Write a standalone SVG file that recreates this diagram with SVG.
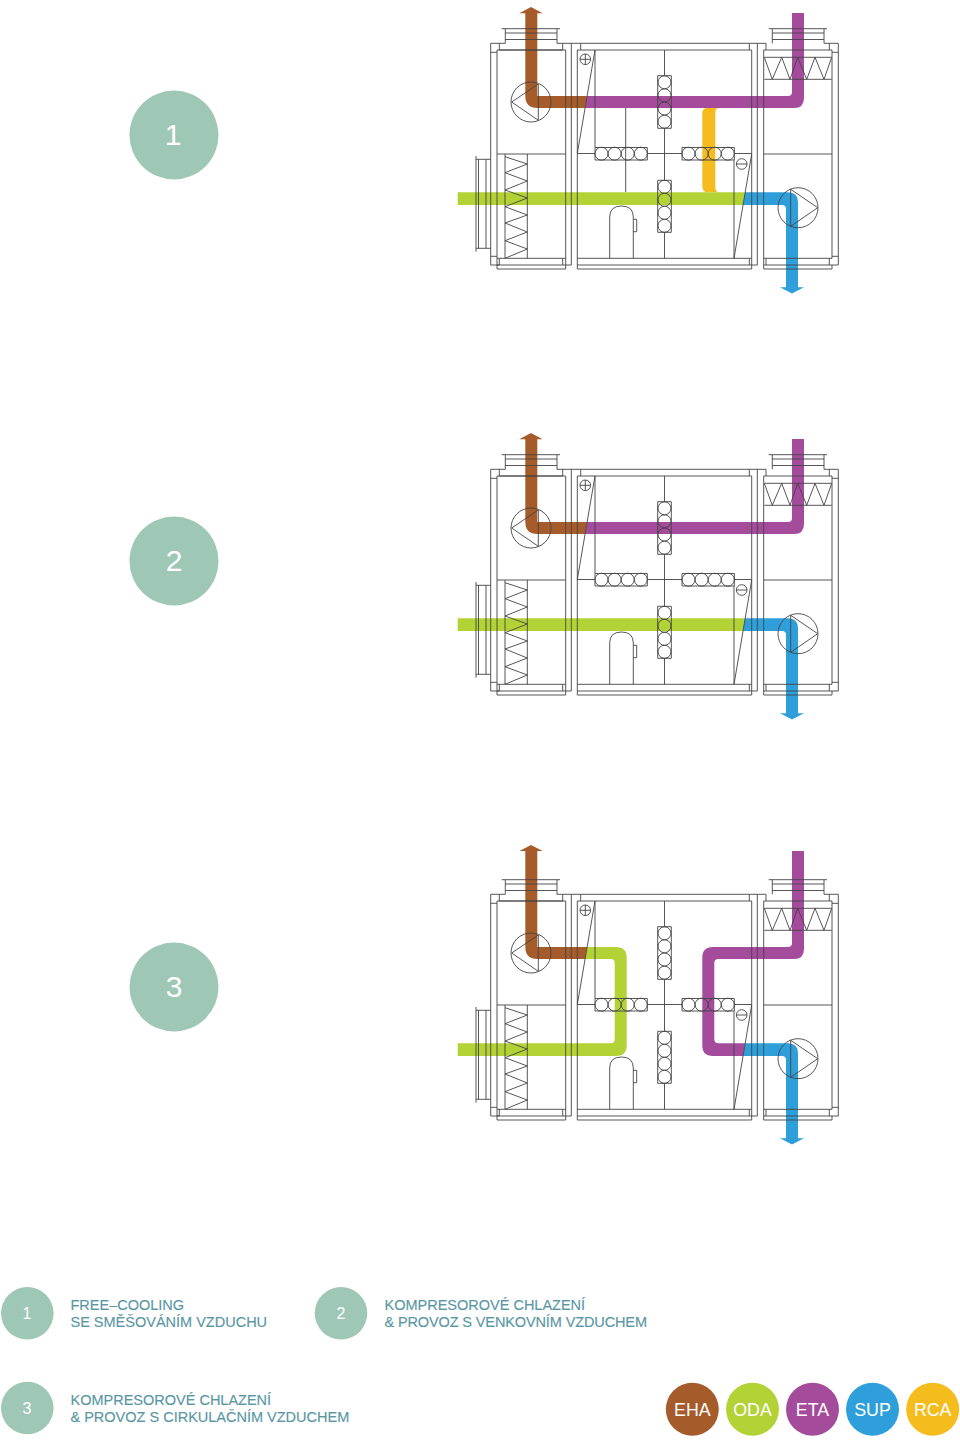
<svg xmlns="http://www.w3.org/2000/svg" width="960" height="1443" viewBox="0 0 960 1443">
<style>
.l{fill:none;stroke:#444;stroke-width:.9}
.brown{fill:#a65b2b}.purple{fill:#a44b9b}.green{fill:#b3d235}.blue{fill:#2f9fdb}.yellow{fill:#f5bc1e}
.big{fill:#9ec8b5}
text{font-family:"Liberation Sans",Arial,sans-serif}
.n{fill:#fff;text-anchor:middle}
.t{fill:#5a97a3;font-size:14.5px;stroke:#5a97a3;stroke-width:.15}
.k{fill:#fff;text-anchor:middle;font-size:17.8px}
</style>
<defs>
<g id="unit" class="l">
<path d="M490.7 43.3V265H499.3V258.3M490.7 43.3H505.3M499.3 43.3V50M490.7 52.3H497M490.7 256.3H497"/>
<path d="M497 50V269H565.7V50H497M497 265H562.7V258.3M497 258.3H565.7M499.3 50H562.7M562.7 43.3V50"/>
<path d="M557 43.3H580.7V50M571.3 43.3V265H562.7M577.3 50V269H751.7M577.3 265H749.3M577.3 258.3H751.7"/>
<path d="M580.7 43.3H749.3V50M577.3 50H751.7V269M749.3 265V258.3"/>
<path d="M749.3 43.3H766V50M757.3 43.3V265H749.3M763.7 50V269H832V265M766 265V258.3M763.7 265H838.3M829.3 265V258.3M763.7 258.3H832"/>
<path d="M824 43.3H838.3V265M829.3 43.3V50M763.7 50H832V258.3M832 52.3H838.3M832 256.3H838.3"/>
<path d="M501.7 28.7H560M505.3 28.7V43.3M557 28.7V43.3M505.3 33H557M505.3 39.5H557"/>
<path d="M768.7 28.7H827M772.3 28.7V43.3M824 28.7V43.3M772.3 33H824M772.3 39.5H824"/>
<path d="M476 156V251.7M476 159.3H490.7M476 248.3H490.7M478.5 159.3V248.3M486 159.3V248.3"/>
<path d="M497 154H565.7M505 154V258.3M527.3 154V258.3M505 156.7L527.3 164L505 172.7L527.3 181L505 190L527.3 198L505 206.7L527.3 215L505 223L527.3 232L505 240.7L527.3 249L505 258.3"/>
<path d="M763.7 154H832M764.3 57.3H831.7M764.3 57.3L772.3 79.3L781.7 57.3L790 79.3L797.7 57.3L806.7 79.3L815 57.3L824 79.3L831.7 57.3M764.3 79.3H831.7"/>
<circle cx="531" cy="102" r="20"/><path d="M538.3 84V120.3L511.7 102Z"/>
<circle cx="798" cy="207.7" r="20"/><path d="M790.7 189.3V226.3L817.7 207.7Z"/>
<path d="M595 50V147.5M595 50L577.3 153.5M577.3 153.5H595M647.3 153.5H682M734.3 153.5H751.7M734 160V258.3L751.7 154"/>
<circle cx="585.3" cy="59.3" r="5.3"/><path d="M580 59.3H590.6M585.3 54V64.6"/>
<circle cx="741.7" cy="164" r="5.3"/><path d="M736.4 164H747"/>
<path d="M664.5 50V75.7M664.5 128.3V180.3M664.5 232.3V258.3"/>
<path d="M657.7 75.7H671.3V128.3H657.7ZM657.7 180.3H671.3V232.3H657.7ZM595 147.5H647.3V160H595ZM682 147.5H734.3V160H682Z"/>
<circle cx="664.5" cy="82.3" r="6.5"/><circle cx="664.5" cy="95.3" r="6.5"/><circle cx="664.5" cy="108.5" r="6.5"/><circle cx="664.5" cy="121.7" r="6.5"/>
<circle cx="664.5" cy="186.8" r="6.5"/><circle cx="664.5" cy="199.8" r="6.5"/><circle cx="664.5" cy="212.8" r="6.5"/><circle cx="664.5" cy="225.8" r="6.5"/>
<circle cx="601.5" cy="153.7" r="6.5"/><circle cx="614.6" cy="153.7" r="6.5"/><circle cx="627.7" cy="153.7" r="6.5"/><circle cx="640.8" cy="153.7" r="6.5"/>
<circle cx="688.5" cy="153.7" r="6.5"/><circle cx="701.6" cy="153.7" r="6.5"/><circle cx="714.7" cy="153.7" r="6.5"/><circle cx="727.8" cy="153.7" r="6.5"/>
<path d="M609.7 258.3V217Q609.7 206 621.5 206T633.3 217V258.3M633.3 219.3H636.7V231.7H633.3"/>
</g>
<path id="brownA" d="M525.3 13.3H519.3L531 7L542.7 13.3H537.3V96H587L585 108H537.3Q525.3 108 525.3 96Z"/>
<path id="purpleA" d="M587 96H788Q792 96 792 92V13H804V98Q804 108 794 108H585Z"/>
<path id="greenA" d="M457.7 192.3H745L743 205H457.7Z"/>
<path id="blueA" d="M745 192.3H788Q798 192.3 798 202.3V287.3H804L792 293.5L780 287.3H786V209Q786 205 782 205H743Z"/>
</defs>

<g id="panel-1">
<circle class="big" cx="174" cy="135" r="44.5"/>
<text class="n" x="173" y="145" font-size="30">1</text>
<path class="yellow" d="M706 108H718Q715.3 109 715.3 113V187Q715.3 191 718 192.3H706Q702.3 191 702.3 186V113Q702.3 109 706 108Z"/>
<use href="#brownA" class="brown"/><use href="#purpleA" class="purple"/><use href="#greenA" class="green"/><use href="#blueA" class="blue"/>
<use href="#unit"/>
<path class="l" d="M625.7 108V192"/>
</g>

<g id="panel-2">
<circle class="big" cx="174" cy="561" r="44.5"/>
<text class="n" x="174" y="571" font-size="30">2</text>
<g transform="translate(0 426)">
<use href="#brownA" class="brown"/><use href="#purpleA" class="purple"/><use href="#greenA" class="green"/><use href="#blueA" class="blue"/>
<use href="#unit"/>
</g>
</g>

<g id="panel-3">
<circle class="big" cx="174" cy="987" r="44.5"/>
<text class="n" x="174" y="997" font-size="30">3</text>
<g transform="translate(0 851)">
<path class="green" d="M457.7 192.3H610.5Q614.7 192.3 614.7 188V112Q614.7 108 610.5 108H585L587 96H616Q626.7 96 626.7 106.5V194.5Q626.7 205 616 205H457.7Z"/>
<path class="purple" d="M804 0H792V92Q792 96 788 96H713Q702.3 96 702.3 106.5V194.5Q702.3 205 713 205H743L745 192.3H718.5Q714.3 192.3 714.3 188V112Q714.3 108 718.5 108H794Q804 108 804 98Z"/>
<path class="brown" d="M525.3 0H519.3L531 -6L542.7 0H537.3V96H587L585 108H537.3Q525.3 108 525.3 96Z"/>
<use href="#blueA" class="blue"/>
<use href="#unit"/>
</g>
</g>

<g id="legend-1"><circle class="big" cx="27.3" cy="1313.3" r="26.3"/><text class="n" x="27" y="1319" font-size="16">1</text>
<text class="t" x="70.5" y="1310">FREE–COOLING</text><text class="t" x="70.5" y="1327">SE SMĚŠOVÁNÍM VZDUCHU</text></g>
<g id="legend-2"><circle class="big" cx="341" cy="1313.3" r="26.3"/><text class="n" x="341" y="1319" font-size="16">2</text>
<text class="t" x="384.5" y="1309.7">KOMPRESOROVÉ CHLAZENÍ</text><text class="t" x="384.5" y="1326.5" textLength="262.5">&amp; PROVOZ S VENKOVNÍM VZDUCHEM</text></g>
<g id="legend-3"><circle class="big" cx="27.3" cy="1408" r="26.3"/><text class="n" x="27" y="1414" font-size="16">3</text>
<text class="t" x="70.5" y="1405">KOMPRESOROVÉ CHLAZENÍ</text><text class="t" x="70.5" y="1422">&amp; PROVOZ S CIRKULAČNÍM VZDUCHEM</text></g>

<g id="key-eha"><circle class="brown" cx="692.3" cy="1409.3" r="26.5"/><text class="k" x="692.3" y="1415.6">EHA</text></g>
<g id="key-oda"><circle class="green" cx="752.5" cy="1409.3" r="26.5"/><text class="k" x="752.5" y="1415.6">ODA</text></g>
<g id="key-eta"><circle class="purple" cx="812.5" cy="1409.3" r="26.5"/><text class="k" x="812.5" y="1415.6">ETA</text></g>
<g id="key-sup"><circle class="blue" cx="872.5" cy="1409.3" r="26.5"/><text class="k" x="872.5" y="1415.6">SUP</text></g>
<g id="key-rca"><circle class="yellow" cx="932.7" cy="1409.3" r="26.5"/><text class="k" x="932.7" y="1415.6">RCA</text></g>
</svg>
